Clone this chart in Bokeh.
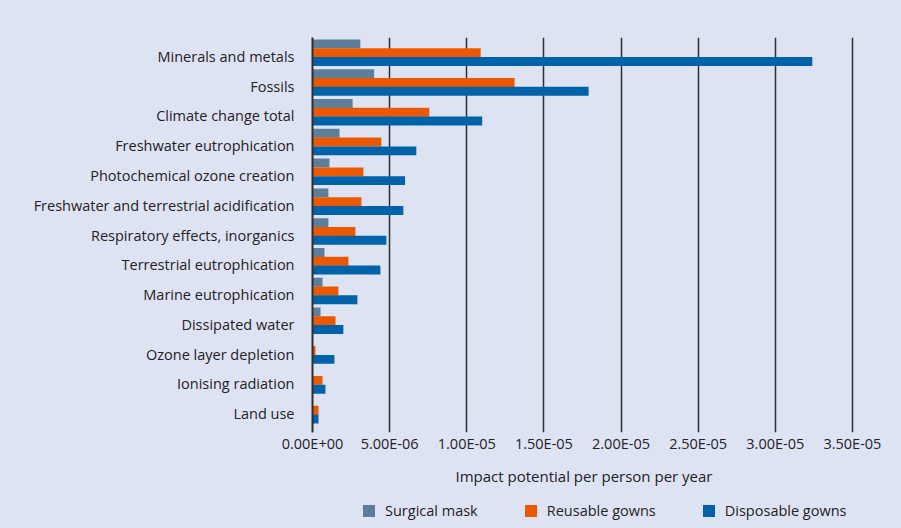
from bokeh.plotting import figure
from bokeh.models import (FactorRange, Range1d, FixedTicker, CustomJSTickFormatter,
                          ColumnDataSource, Legend, LegendItem, InlineStyleSheet)
from bokeh.layouts import column
from bokeh.transform import dodge
from bokeh.embed import file_html
from bokeh.resources import INLINE

categories = [
    "Minerals and metals", "Fossils", "Climate change total",
    "Freshwater eutrophication", "Photochemical ozone creation",
    "Freshwater and terrestrial acidification", "Respiratory effects, inorganics",
    "Terrestrial eutrophication", "Marine eutrophication", "Dissipated water",
    "Ozone layer depletion", "Ionising radiation", "Land use",
]
surgical_mask = [3.1e-6, 4.0e-6, 2.6e-6, 1.75e-6, 1.1e-6, 1.03e-6, 1.03e-6,
                 0.78e-6, 0.65e-6, 0.52e-6, 0.0, 0.0, 0.0]
reusable_gowns = [1.09e-5, 1.31e-5, 7.57e-6, 4.46e-6, 3.3e-6, 3.17e-6, 2.78e-6,
                  2.33e-6, 1.68e-6, 1.49e-6, 0.19e-6, 0.65e-6, 0.39e-6]
disposable_gowns = [3.24e-5, 1.79e-5, 1.10e-5, 6.73e-6, 6.0e-6, 5.89e-6, 4.79e-6,
                    4.4e-6, 2.91e-6, 2.0e-6, 1.42e-6, 0.84e-6, 0.39e-6]
series_names = ["Surgical mask", "Reusable gowns", "Disposable gowns"]
tick_values = [0.0, 5e-6, 1e-5, 1.5e-5, 2e-5, 2.5e-5, 3e-5, 3.5e-5]
tick_labels = ["0.00E+00", "5.00E-06", "1.00E-05", "1.50E-05", "2.00E-05",
               "2.50E-05", "3.00E-05", "3.50E-05"]
x_title = "Impact potential per person per year"

colors = ["#5d7e99", "#ec5800", "#0062a9"]
BG = "#dee3f4"
FONT = "Open Sans"
TXT = "#222222"
LINE = "#2e2e2e"

source = ColumnDataSource(dict(cat=categories, s0=surgical_mask,
                               s1=reusable_gowns, s2=disposable_gowns))

p = figure(frame_width=543, frame_height=395, output_backend="svg", toolbar_location=None,
           y_range=FactorRange(factors=list(reversed(categories)), range_padding=0.13,
                               range_padding_units="absolute"),
           x_range=Range1d(0, 3.52e-5),
           min_border_left=312, min_border_top=37, min_border_right=46,
           min_border_bottom=60)
p.background_fill_color = BG
p.border_fill_color = BG
p.outline_line_color = None

offsets = [0.415, 0.12, -0.175]
renderers = []
for i, key in enumerate(["s0", "s1", "s2"]):
    r = p.hbar(y=dodge("cat", offsets[i], range=p.y_range), right=key, left=0,
               height=0.30, source=source, fill_color=colors[i],
               line_color=None)
    renderers.append(r)

p.xaxis.ticker = FixedTicker(ticks=tick_values)
p.xaxis.formatter = CustomJSTickFormatter(args=dict(tvals=tick_values, tlabs=tick_labels), code="""
let best = 0, bd = Infinity;
for (let i = 0; i < tvals.length; i++) { const d = Math.abs(tvals[i] - tick); if (d < bd) { bd = d; best = i; } }
return tlabs[best];
""")
p.xaxis.axis_line_color = None
p.xaxis.major_tick_line_color = None
p.xaxis.major_tick_out = 0
p.xaxis.major_tick_in = 0
p.xaxis.minor_tick_line_color = None
p.xaxis.major_label_text_font = FONT
p.xaxis.major_label_text_font_size = "14.5px"
p.xaxis.major_label_text_color = TXT
p.xaxis.major_label_standoff = 1
p.xaxis.axis_label = x_title
p.xaxis.axis_label_text_font = FONT
p.xaxis.axis_label_text_font_size = "15px"
p.xaxis.axis_label_text_font_style = "normal"
p.xaxis.axis_label_text_color = TXT
p.xaxis.axis_label_standoff = 10

p.yaxis.axis_line_color = LINE
p.yaxis.axis_line_width = 2
p.yaxis.major_tick_line_color = None
p.yaxis.minor_tick_line_color = None
p.yaxis.major_label_text_font = FONT
p.yaxis.major_label_text_font_size = "14.5px"
p.yaxis.major_label_text_color = TXT
p.yaxis.major_label_standoff = 12

p.xgrid.grid_line_color = LINE
p.xgrid.grid_line_width = 1.5
p.xgrid.ticker = FixedTicker(ticks=tick_values)
p.ygrid.grid_line_color = None

# Legend strip under the chart (frame aligned with the chart's frame)
lf = figure(frame_width=543, frame_height=36, output_backend="svg", toolbar_location=None,
            x_range=Range1d(0, 1), y_range=Range1d(0, 1),
            x_axis_location=None, y_axis_location=None,
            min_border_left=312, min_border_right=46, min_border_top=0, min_border_bottom=0)
lf.background_fill_color = None
lf.border_fill_color = BG
lf.outline_line_color = None
lf.xgrid.grid_line_color = None
lf.ygrid.grid_line_color = None
leg_renderers = []
for i in range(3):
    # one hidden placeholder row (outside the visible range) so the swatch is drawn
    r = lf.hbar(y=[-5], right=[0], left=0, height=0.3, fill_color=colors[i], line_color=None)
    leg_renderers.append(r)

legend = Legend(items=[LegendItem(label=series_names[i], renderers=[leg_renderers[i]])
                       for i in range(3)],
                orientation="horizontal", location=(49, 8),
                background_fill_alpha=0, border_line_color=None,
                label_text_font=FONT, label_text_font_size="14.5px",
                label_text_color=TXT, glyph_width=15, glyph_height=15,
                spacing=45, label_standoff=9, margin=0, padding=0)
lf.add_layout(legend, "center")

layout = column(p, lf, spacing=0,
                stylesheets=[InlineStyleSheet(css=":host { background-color: #dee3f4; }")])
open("out.html", "w").write(file_html(layout, INLINE))
